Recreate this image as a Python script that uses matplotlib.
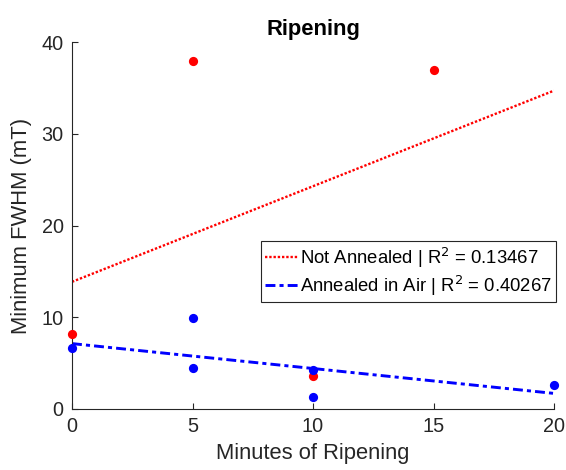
import numpy as np
import matplotlib.pyplot as plt

plt.rcParams['font.family'] = ['Liberation Sans', 'DejaVu Sans']

# data
x_not = [0, 5, 10, 15]
y_not = [8.2, 37.9, 3.6, 37.0]
x_air = [0, 5, 5, 10, 10, 20]
y_air = [6.6, 9.9, 4.5, 4.3, 1.3, 2.6]
r2_labels = ['Not Annealed | R$^2$ = 0.13467', 'Annealed in Air | R$^2$ = 0.40267']
xticks = [0, 5, 10, 15, 20]
yticks = [0, 10, 20, 30, 40]

fig = plt.figure(figsize=(5.66, 4.70), dpi=100)
ax = fig.add_axes([72 / 566, 61 / 470, 482 / 566, 367 / 470])

# linear fits
xs = np.array([0, 20])
p_not = np.polyfit(x_not, y_not, 1)
p_air = np.polyfit(x_air, y_air, 1)
l1, = ax.plot(xs, np.polyval(p_not, xs), color='#ff0000', lw=1.7,
              linestyle=(0, (1, 0.8)), dash_capstyle='butt')
l2, = ax.plot(xs, np.polyval(p_air, xs), color='#0000ff', lw=2.1,
              linestyle=(0, (3.4, 1.4, 1.4, 1.4)), dash_capstyle='butt')

ax.scatter(x_not, y_not, s=44, color='#ff0000', zorder=3, clip_on=False, linewidths=0)
ax.scatter(x_air, y_air, s=44, color='#0000ff', zorder=3, clip_on=False, linewidths=0)

ax.set_xlim(0, 20)
ax.set_ylim(0, 40)
ax.set_xticks(xticks)
ax.set_yticks(yticks)
for s in ['top', 'right']:
    ax.spines[s].set_visible(False)
for s in ['left', 'bottom']:
    ax.spines[s].set_color('#262626')
    ax.spines[s].set_linewidth(0.8)
ax.tick_params(direction='in', length=4, width=0.8, colors='#262626', labelsize=14.3)
ax.tick_params(axis='x', pad=6)
ax.tick_params(axis='y', pad=6)

ax.set_xlabel('Minutes of Ripening', fontsize=15.8, color='#262626', labelpad=5)
ax.set_ylabel('Minimum FWHM (mT)', fontsize=15.8, color='#262626', labelpad=7)
ax.set_title('Ripening', fontsize=15.8, fontweight='bold', pad=5)

leg = ax.legend([l1, l2], r2_labels, loc='upper right', bbox_to_anchor=(556 / 566, 1 - 241 / 470),
                bbox_transform=fig.transFigure, fontsize=13.3, handlelength=1.75, handletextpad=0.1,
                borderaxespad=0, borderpad=0.25, labelspacing=0.2, fancybox=False, framealpha=1)
leg.get_frame().set_edgecolor('#262626')
leg.get_frame().set_linewidth(0.8)

fig.savefig('out.png', dpi=100)
